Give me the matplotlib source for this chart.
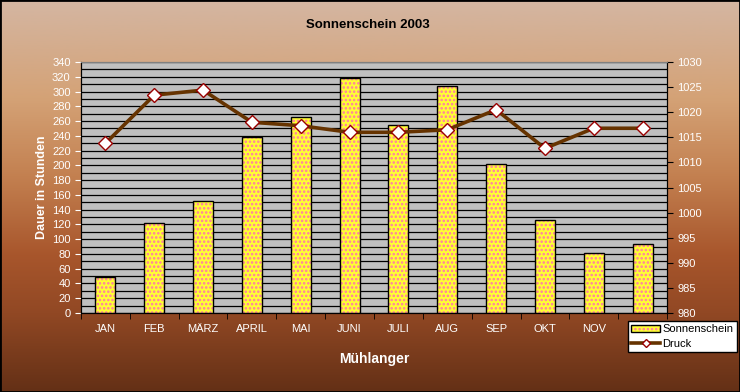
import numpy as np
import matplotlib
matplotlib.use("Agg")
import matplotlib.pyplot as plt
from matplotlib.colors import LinearSegmentedColormap
from matplotlib.patches import Patch
from matplotlib.lines import Line2D
from matplotlib.ticker import MultipleLocator

plt.rcParams['font.family'] = ['Liberation Sans', 'DejaVu Sans']
plt.rcParams['hatch.linewidth'] = 1.2

monate = ["JAN", "FEB", "MÄRZ", "APRIL", "MAI", "JUNI", "JULI", "AUG", "SEP", "OKT", "NOV", "DEZ"]
sonnenschein = [49, 122, 152, 238, 266, 318, 255, 307, 202, 126, 81, 94]
druck = [1013.8, 1023.4, 1024.4, 1018.0, 1017.3, 1016.0, 1016.0, 1016.5, 1020.5, 1012.8, 1016.8, 1016.8]

fig = plt.figure(figsize=(7.4, 3.92), dpi=100)

# hintergrund verlauf
bg = fig.add_axes([0, 0, 1, 1], zorder=-10)
cmap = LinearSegmentedColormap.from_list("bg", [
    (0.0, (212/255, 182/255, 162/255)),
    (0.25, (212/255, 162/255, 118/255)),
    (0.45, (195/255, 128/255, 80/255)),
    (0.65, (168/255, 86/255, 44/255)),
    (0.8, (145/255, 72/255, 36/255)),
    (1.0, (100/255, 48/255, 22/255)),
])
grad = np.linspace(0, 1, 256).reshape(-1, 1)
bg.imshow(grad, aspect="auto", cmap=cmap, extent=[0, 1, 0, 1], origin="upper")
bg.set_xlim(0, 1)
bg.set_ylim(0, 1)
bg.axis("off")
bg.add_patch(plt.Rectangle((0, 0), 1, 1, fill=False, edgecolor="black", linewidth=2, transform=bg.transAxes))

ax = fig.add_axes([81/740, 1 - 313/392, 586/740, 251/392])
ax.set_facecolor("#c0c0c0")
x = np.arange(len(monate))
width = 0.41
ax.bar(x, sonnenschein, width, color="#ffff33", edgecolor="#ff77aa", linewidth=0, hatch="....", zorder=3)
ax.bar(x, sonnenschein, width, fill=False, edgecolor="black", linewidth=1, zorder=4)

ax.set_xlim(-0.5, len(monate) - 0.5)
ax.set_ylim(0, 340)
ax.yaxis.set_major_locator(MultipleLocator(20))
ax.yaxis.set_minor_locator(MultipleLocator(10))
ax.yaxis.grid(True, which="both", color="black", linewidth=0.9)
ax.set_axisbelow(True)
ax.set_xticks(x)
ax.set_xticklabels(monate)
ax.set_xticks(np.arange(len(monate) + 1) - 0.5, minor=True)
ax.tick_params(axis="x", which="major", length=0, colors="white", labelsize=8, pad=8)
ax.tick_params(axis="x", which="minor", length=4, direction="out", color="black")
ax.tick_params(axis="y", which="major", length=4, colors="white", labelsize=8)
ax.tick_params(axis="y", which="minor", length=0)
for t in ax.get_yticklines() + ax.xaxis.get_minorticklines():
    t.set_color("black")
ax.spines["top"].set_color("#808080")
for s in ["left", "bottom", "right"]:
    ax.spines[s].set_color("black")
ax.set_ylabel("Dauer in Stunden", color="white", fontsize=9, fontweight="bold", labelpad=3)
ax.set_xlabel("Mühlanger", color="white", fontsize=10, fontweight="bold", labelpad=13)

ax2 = ax.twinx()
ax2.plot(x, druck, color="#663300", linewidth=2.6, marker="D", markersize=7,
         markerfacecolor="white", markeredgecolor="#990000", markeredgewidth=1, zorder=5)
ax2.set_ylim(980, 1030)
ax2.yaxis.set_major_locator(MultipleLocator(5))
ax2.tick_params(axis="y", length=4, color="black", labelcolor="white", labelsize=8)
ax2.spines["right"].set_color("black")
ax2.spines["top"].set_color("#808080")

fig.text(368/740, 1 - 25/392, "Sonnenschein 2003", ha="center", va="center",
         fontsize=9.5, fontweight="bold", color="black")

handles = [(Patch(facecolor="#ffff33", edgecolor="#ff77aa", linewidth=0, hatch="...."),
            Patch(fill=False, edgecolor="black", linewidth=1)),
           Line2D([], [], color="#663300", linewidth=2.6, marker="D", markersize=4,
                  markerfacecolor="white", markeredgecolor="#990000")]
leg = fig.legend(handles, ["Sonnenschein", "Druck"], loc="upper left",
                 bbox_to_anchor=(628/740, 1 - 321/392), fontsize=8, frameon=True,
                 fancybox=False, edgecolor="black", framealpha=1, borderaxespad=0,
                 handlelength=2.6, handletextpad=0.2, borderpad=0.3, labelspacing=0.4)
leg.get_frame().set_linewidth(1)

fig.savefig("out.png", dpi=100)
